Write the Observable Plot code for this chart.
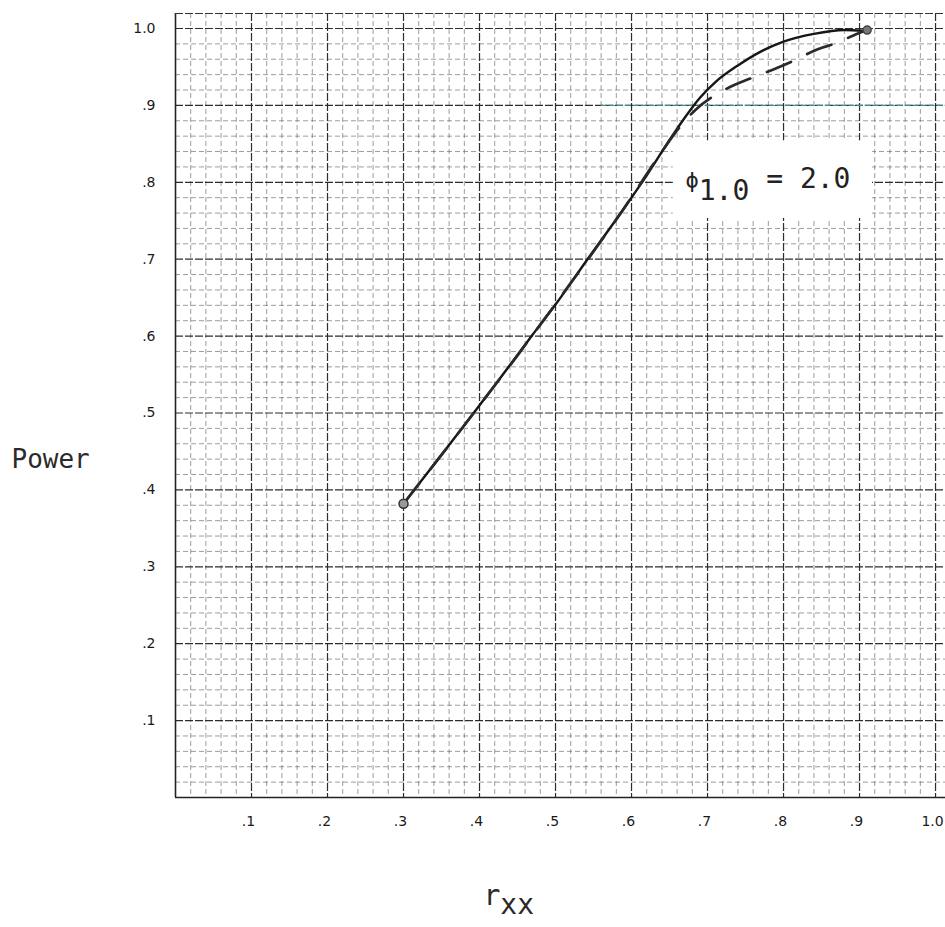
<!DOCTYPE html>
<html><head><meta charset="utf-8">
<script src="https://cdn.jsdelivr.net/npm/d3@7"></script>
<script src="https://cdn.jsdelivr.net/npm/@observablehq/plot@0.6"></script>
<style>html,body{margin:0;padding:0;background:#fff;} #chart svg{display:block;}</style>
</head><body><div id="chart"></div>
<script>
// Solid curve
const solidX = [0.30, 0.34, 0.38, 0.41, 0.43, 0.47, 0.50, 0.54, 0.59, 0.62, 0.65, 0.67, 0.69, 0.71, 0.74, 0.77, 0.80, 0.84, 0.88, 0.905];
const solidY = [0.382, 0.433, 0.484, 0.523, 0.549, 0.602, 0.641, 0.697, 0.766, 0.809, 0.855, 0.884, 0.910, 0.930, 0.952, 0.970, 0.983, 0.993, 0.998, 0.997];
// Dashed curve
const dashedX = [0.30, 0.38, 0.45, 0.52, 0.59, 0.64, 0.662, 0.684, 0.724, 0.759, 0.792, 0.813, 0.845, 0.872, 0.892, 0.91];
const dashedY = [0.382, 0.484, 0.575, 0.669, 0.766, 0.840, 0.870, 0.894, 0.921, 0.936, 0.949, 0.958, 0.973, 0.982, 0.991, 0.998];

const xTicks = [0.1, 0.2, 0.3, 0.4, 0.5, 0.6, 0.7, 0.8, 0.9, 1.0];
const xTickLabels = [".1", ".2", ".3", ".4", ".5", ".6", ".7", ".8", ".9", "1.0"];
const yTicks = [0.1, 0.2, 0.3, 0.4, 0.5, 0.6, 0.7, 0.8, 0.9, 1.0];
const yTickLabels = [".1", ".2", ".3", ".4", ".5", ".6", ".7", ".8", ".9", "1.0"];

const yLabel = "Power";
const xLabel = "rxx";
const noteText = "ϕ1.0 = 2.0";
const notePos = [{x: 0.671, y: 0.8036}];
const noteBox = [{x1: 0.655, x2: 0.917, y1: 0.753, y2: 0.854}];
const tealLine = [{y: 0.9, x1: 0.56, x2: 1.0131}];

const xMax = 1.0131, yMax = 1.0195;

const solid = solidX.map((x, i) => ({x, y: solidY[i]}));
const dashed = dashedX.map((x, i) => ({x, y: dashedY[i]}));
const xMap = new Map(xTicks.map((t, i) => [t.toFixed(1), xTickLabels[i]]));
const yMap = new Map(yTicks.map((t, i) => [t.toFixed(1), yTickLabels[i]]));

const fine = d3.range(1, 51).map(i => i / 50).filter(v => Math.round(v * 50) % 5 !== 0);
const major = d3.range(1, 11).map(i => i / 10);

const mono = "DejaVu Sans Mono";

const chart = Plot.plot({
  width: 945,
  height: 927,
  marginLeft: 175,
  marginRight: 0,
  marginTop: 13,
  marginBottom: 130,
  x: {domain: [0, xMax], label: null},
  y: {domain: [0, yMax], label: null},
  style: {background: "white", overflow: "visible"},
  marks: [
    Plot.gridX(fine, {stroke: "#5a5a5a", strokeOpacity: 0.75, strokeWidth: 0.8, strokeDasharray: "5,3"}),
    Plot.gridY(fine, {stroke: "#5a5a5a", strokeOpacity: 0.75, strokeWidth: 0.8, strokeDasharray: "5,3"}),
    Plot.gridX(major, {stroke: "#222", strokeOpacity: 0.95, strokeWidth: 1.2, strokeDasharray: "8,2"}),
    Plot.gridY(major, {stroke: "#222", strokeOpacity: 0.95, strokeWidth: 1.2, strokeDasharray: "8,2"}),
    Plot.ruleY(tealLine, {y: "y", x1: "x1", x2: "x2", stroke: "#3f8f8a", strokeWidth: 1.4, strokeDasharray: "6,2"}),
    Plot.ruleX([0], {stroke: "#222", strokeWidth: 1.6}),
    Plot.ruleY([0], {stroke: "#222", strokeWidth: 1.6}),
    Plot.ruleY([yMax], {stroke: "#333", strokeWidth: 1.2, strokeDasharray: "8,2"}),
    Plot.rect(noteBox, {x1: "x1", x2: "x2", y1: "y1", y2: "y2", fill: "white"}),
    Plot.line(solid, {x: "x", y: "y", curve: "monotone-x", stroke: "#161616", strokeWidth: 2.4}),
    Plot.line(dashed, {x: "x", y: "y", curve: "monotone-x", stroke: "#2a2a2a", strokeWidth: 2.7, strokeDasharray: "26,18"}),
    Plot.dot([solid[0]], {x: "x", y: "y", r: 4.5, fill: "#999", stroke: "#333", strokeWidth: 1.5}),
    Plot.dot([dashed[dashed.length - 1]], {x: "x", y: "y", r: 4, fill: "#777", stroke: "#444"}),
    Plot.axisX({ticks: xTicks, tickFormat: d => xMap.get(d.toFixed(1)), tickSize: 0, tickPadding: 19, dx: -3,
      fontSize: 14, fontFamily: "DejaVu Sans", fill: "#1a1a1a", label: null}),
    Plot.axisY({ticks: yTicks, tickFormat: d => yMap.get(d.toFixed(1)), tickSize: 0, tickPadding: 20,
      fontSize: 14, fontFamily: "DejaVu Sans", fill: "#1a1a1a", label: null}),
    Plot.text([yLabel], {frameAnchor: "left", text: d => d, textAnchor: "start", dx: -164, dy: 54,
      fontSize: 26, fontFamily: mono, fill: "#2a2a2a"}),
    Plot.text([xLabel], {frameAnchor: "bottom", text: d => d, textAnchor: "start", dx: -77, dy: 107,
      fontSize: 28, fontFamily: mono, fill: "#2a2a2a"}),
    Plot.text(notePos, {x: "x", y: "y", text: () => noteText, textAnchor: "start",
      fontSize: 28, fontFamily: mono, fill: "#222"})
  ]
});

// Subscript formatting for the labels
chart.querySelectorAll("text").forEach(t => {
  const s = t.textContent;
  const ns = "http://www.w3.org/2000/svg";
  if (s === noteText) {
    t.textContent = "";
    const a = document.createElementNS(ns, "tspan"); a.textContent = "ϕ"; a.setAttribute("font-size", "22");
    const b = document.createElementNS(ns, "tspan"); b.textContent = "1.0"; b.setAttribute("dy", "12");
    const c = document.createElementNS(ns, "tspan"); c.textContent = " = 2.0"; c.setAttribute("dy", "-12");
    t.append(a, b, c);
  } else if (s === xLabel) {
    t.textContent = "";
    const a = document.createElementNS(ns, "tspan"); a.textContent = "r";
    const b = document.createElementNS(ns, "tspan"); b.textContent = "xx"; b.setAttribute("dy", "9");
    t.append(a, b);
  }
});

document.getElementById("chart").append(chart);
</script>
</body></html>
